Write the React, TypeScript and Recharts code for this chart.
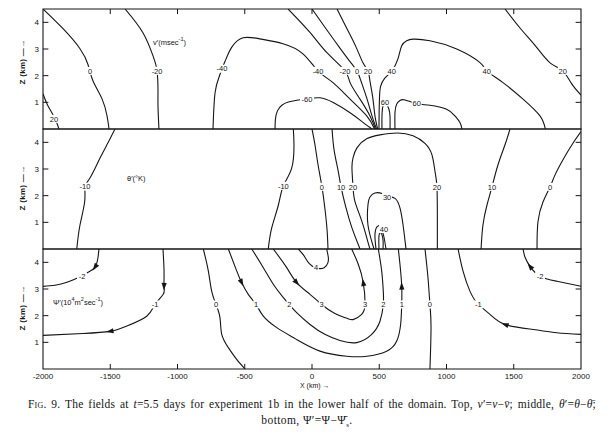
import React from 'react';
import { ComposedChart, Line, XAxis, YAxis, ReferenceArea, ReferenceLine, Scatter } from 'recharts';

// ---------- axes ----------
const xTicks = [-2000, -1500, -1000, -500, 0, 500, 1000, 1500, 2000];
const innerXTicks = [-1500, -1000, -500, 0, 500, 1000, 1500];
const zTicks = [1, 2, 3, 4];

// ---------- top panel: v' (m/s) ----------
const vP20West = [[-2000, 1.32], [-1970, 0.94], [-1933, 0.6], [-1903, 0.3], [-1881, 0]];
const vZeroWest = [[-2000, 4.5], [-1851, 3.76], [-1725, 3.01], [-1665, 2.41], [-1628, 1.8], [-1561, 1.13], [-1524, 0.49], [-1509, 0]];
const vM20West = [[-1390, 4.5], [-1257, 3.61], [-1182, 2.74], [-1152, 2.18], [-1145, 1.43], [-1145, 0.86], [-1138, 0]];
const vM40 = [[-736, 0], [-721, 1.35], [-691, 1.95], [-669, 2.26], [-639, 2.63], [-595, 3.08], [-513, 3.42], [-387, 3.38], [-216, 3.2], [-67, 2.82], [45, 2.18], [156, 1.74], [283, 1.12], [407, 0.49], [465, 0]];
const vM60 = [[-275, 0], [-272, 0.36], [-257, 0.68], [-224, 0.89], [-176, 1.01], [-102, 1.09], [-37, 1.13], [59, 1.17], [158, 0.99], [283, 0.61], [381, 0.24], [446, 0]];
const vM20East = [[-178, 4.5], [-15, 3.62], [109, 2.87], [245, 2.18], [283, 1.74], [357, 1.12], [431, 0.49], [472, 0]];
const vZeroEast = [[0, 4.5], [104, 3.76], [201, 3.08], [290, 2.48], [335, 2.18], [364, 1.8], [409, 1.13], [446, 0.49], [480, 0]];
const vP20Mid = [[186, 4.5], [260, 3.76], [327, 3.08], [379, 2.48], [416, 2.18], [431, 1.8], [453, 1.13], [468, 0.49], [488, 0]];
const vP40 = [[498, 0], [499, 0.6], [502, 1.2], [510, 1.6], [540, 1.9], [593, 2.18], [639, 2.63], [667, 3.12], [704, 3.31], [751, 3.37], [877, 3.31], [1076, 3.0], [1249, 2.49], [1299, 2.18], [1420, 1.74], [1569, 1.12], [1695, 0.49], [1735, 0]];
const vP60West = [[520, 0], [521, 0.6], [530, 0.92], [543, 1.02], [558, 0.92], [578, 0.6], [580, 0]];
const vP60East = [[617, 0], [617, 0.62], [630, 0.94], [654, 1.07], [691, 1.09], [778, 0.95], [877, 0.89], [1001, 0.74], [1063, 0.49], [1100, 0.24], [1115, 0]];
const vP20East = [[1435, 4.5], [1551, 3.76], [1667, 3.08], [1770, 2.48], [1864, 2.18], [1930, 1.7], [2000, 1.27]];
const vLabels = [
  { x: -1918, z: 0.38, t: '20' }, { x: -1650, z: 2.18, t: '0' }, { x: -1152, z: 2.18, t: '-20' },
  { x: -669, z: 2.26, t: '-40' }, { x: -37, z: 1.13, t: '-60' }, { x: 45, z: 2.18, t: '-40' },
  { x: 245, z: 2.18, t: '-20' }, { x: 335, z: 2.18, t: '0' }, { x: 416, z: 2.18, t: '20' },
  { x: 593, z: 2.18, t: '40' }, { x: 543, z: 1.0, t: '60' }, { x: 778, z: 0.95, t: '60' },
  { x: 1299, z: 2.18, t: '40' }, { x: 1864, z: 2.18, t: '20' },
];

// ---------- middle panel: theta' (K) ----------
const tM10West = [[-1465, 4.5], [-1517, 3.98], [-1576, 3.41], [-1651, 2.66], [-1688, 2.34], [-1690, 1.78], [-1725, 0.9], [-1749, 0]];
const tM10East = [[-139, 4.5], [-134, 3.91], [-151, 3.03], [-213, 2.37], [-250, 1.65], [-300, 0.78], [-325, 0]];
const tZeroWest = [[0, 4.5], [22, 3.91], [45, 3.16], [74, 2.33], [97, 1.47], [112, 0.71], [119, 0]];
const tP10West = [[149, 4.5], [164, 3.72], [193, 2.97], [216, 2.33], [253, 1.54], [297, 0.79], [357, 0]];
const tP20 = [[431, 0], [416, 0.26], [372, 1.02], [320, 1.77], [305, 2.33], [297, 3.05], [305, 3.42], [335, 3.8], [409, 4.14], [506, 4.28], [632, 4.35], [751, 4.25], [840, 3.96], [892, 3.53], [915, 2.89], [929, 2.33], [932, 1.2], [932, 0]];
const tP30 = [[461, 0], [416, 0.9], [416, 1.65], [431, 1.95], [468, 2.1], [520, 2.08], [560, 1.98], [617, 1.9], [654, 1.54], [677, 0.9], [699, 0]];
const tP40Outer = [[476, 0], [468, 0.53], [483, 0.83], [506, 0.86], [520, 0.71], [535, 0.45], [550, 0]];
const tP40Inner = [[498, 0], [498, 0.49], [513, 0.6], [528, 0.34], [528, 0]];
const tP10East = [[1472, 4.5], [1435, 3.91], [1383, 3.16], [1338, 2.33], [1301, 1.65], [1271, 0.9], [1257, 0]];
const tZeroEast = [[2000, 4.4], [1933, 3.91], [1866, 3.35], [1807, 2.78], [1770, 2.33], [1718, 1.77], [1680, 1.02], [1673, 0]];
const tLabels = [
  { x: -1688, z: 2.34, t: '-10' }, { x: -213, z: 2.37, t: '-10' }, { x: 74, z: 2.33, t: '0' },
  { x: 216, z: 2.33, t: '10' }, { x: 305, z: 2.33, t: '20' }, { x: 929, z: 2.33, t: '20' },
  { x: 558, z: 1.95, t: '30' }, { x: 535, z: 0.75, t: '40' }, { x: 1338, z: 2.33, t: '10' },
  { x: 1770, z: 2.33, t: '0' },
];

// ---------- bottom panel: psi' (10^4 m2/s) ----------
const pM2West = [[-1584, 4.5], [-1591, 4.19], [-1613, 3.82], [-1665, 3.63], [-1710, 3.48], [-1747, 3.4], [-1822, 3.25], [-1911, 3.14], [-2000, 3.1]];
const pM1West = [[-1108, 4.5], [-1100, 3.67], [-1100, 3.1], [-1106, 2.8], [-1167, 2.42], [-1229, 1.98], [-1378, 1.61], [-1502, 1.41], [-1703, 1.33], [-2000, 1.26]];
const pZeroWest = [[-808, 4.5], [-771, 3.68], [-746, 2.92], [-714, 2.42], [-684, 1.92], [-671, 1.3], [-622, 0.8], [-560, 0.36], [-498, 0]];
const pP1 = [[-622, 4.5], [-560, 3.68], [-523, 3.24], [-474, 2.8], [-416, 2.42], [-362, 1.98], [-262, 1.55], [-120, 1.12], [59, 0.67], [258, 0.48], [407, 0.48], [555, 0.67], [630, 1.05], [659, 1.67], [667, 2.42], [667, 3.11], [654, 3.93], [642, 4.5]];
const pP2 = [[-448, 4.5], [-362, 3.8], [-288, 3.18], [-213, 2.68], [-169, 2.42], [-114, 2.11], [-15, 1.67], [95, 1.3], [208, 1.07], [332, 0.99], [444, 1.3], [506, 1.8], [530, 2.42], [530, 2.92], [518, 3.68], [493, 4.5]];
const pP3 = [[-288, 4.5], [-188, 3.8], [-114, 3.24], [-15, 2.8], [72, 2.42], [170, 2.08], [260, 1.9], [310, 1.86], [369, 2.05], [394, 2.42], [381, 3.24], [344, 3.93], [295, 4.5]];
const pP4 = [[-102, 4.5], [-60, 4.25], [-20, 3.95], [35, 3.78], [90, 3.8], [118, 3.98], [121, 4.2], [109, 4.5]];
const pZeroEast = [[840, 4.5], [862, 3.44], [877, 2.42], [885, 1.56], [877, 0]];
const pM1East = [[2000, 1.3], [1820, 1.36], [1645, 1.48], [1435, 1.67], [1323, 2.05], [1237, 2.42], [1175, 2.91], [1123, 3.67], [1086, 4.5]];
const pM2East = [[2000, 3.1], [1821, 3.29], [1695, 3.48], [1621, 3.85], [1584, 4.19], [1569, 4.5]];
const pLabels = [
  { x: -1710, z: 3.48, t: '-2' }, { x: -1167, z: 2.42, t: '-1' }, { x: -714, z: 2.42, t: '0' },
  { x: -416, z: 2.42, t: '1' }, { x: -169, z: 2.42, t: '2' }, { x: 72, z: 2.42, t: '3' },
  { x: 30, z: 3.8, t: '4' }, { x: 394, z: 2.42, t: '3' }, { x: 530, z: 2.42, t: '2' },
  { x: 667, z: 2.42, t: '1' }, { x: 877, z: 2.42, t: '0' }, { x: 1237, z: 2.42, t: '-1' },
  { x: 1695, z: 3.48, t: '-2' },
];
// indices of points carrying flow arrows (points listed in flow direction)
const pArrows: Record<string, number[]> = {
  pM2West: [2], pM1West: [2, 7], pP1: [2, 15], pP3: [2, 10], pM1East: [3], pM2East: [3],
};

// ---------- helpers ----------
type P = { x: number; z: number };
const toPts = (a: number[][]): P[] => a.map(([x, z]) => ({ x, z }));

const PLOT_W = 538;
const PLOT_H = 120;
const INK = '#151515';
const SANS = '"Liberation Sans", Arial, sans-serif';
const SERIF = '"Liberation Serif", "Times New Roman", serif';

type LineDef = { name: string; pts: P[]; arrows: number[] };
const mk = (name: string, a: number[][], arrows: number[] = []): LineDef => ({ name, pts: toPts(a), arrows });

const vLines: LineDef[] = [
  mk('vP20West', vP20West), mk('vZeroWest', vZeroWest), mk('vM20West', vM20West), mk('vM40', vM40),
  mk('vM60', vM60), mk('vM20East', vM20East), mk('vZeroEast', vZeroEast), mk('vP20Mid', vP20Mid),
  mk('vP40', vP40), mk('vP60West', vP60West), mk('vP60East', vP60East), mk('vP20East', vP20East),
];
const tLines: LineDef[] = [
  mk('tM10West', tM10West), mk('tM10East', tM10East), mk('tZeroWest', tZeroWest), mk('tP10West', tP10West),
  mk('tP20', tP20), mk('tP30', tP30), mk('tP40Outer', tP40Outer), mk('tP40Inner', tP40Inner),
  mk('tP10East', tP10East), mk('tZeroEast', tZeroEast),
];
const pLines: LineDef[] = [
  mk('pM2West', pM2West, pArrows.pM2West), mk('pM1West', pM1West, pArrows.pM1West),
  mk('pZeroWest', pZeroWest), mk('pP1', pP1, pArrows.pP1), mk('pP2', pP2),
  mk('pP3', pP3, pArrows.pP3), mk('pP4', pP4), mk('pZeroEast', pZeroEast),
  mk('pM1East', pM1East, pArrows.pM1East), mk('pM2East', pM2East, pArrows.pM2East),
];

const kx = PLOT_W / 4000;
const kz = PLOT_H / 4.5;

function arrowDot(def: LineDef) {
  return (props: any) => {
    const { cx, cy, index } = props;
    if (!def.arrows.includes(index) || cx == null || cy == null) return <g key={`d${index}`} />;
    const a = def.pts[index - 1] ?? def.pts[index];
    const b = def.pts[index + 1] ?? def.pts[index];
    const dx = (b.x - a.x) * kx;
    const dy = -(b.z - a.z) * kz;
    const ang = (Math.atan2(dy, dx) * 180) / Math.PI;
    return (
      <g key={`d${index}`} transform={`translate(${cx},${cy}) rotate(${ang})`}>
        <path d="M4,0 L-3.5,-2.6 L-3.5,2.6 Z" fill={INK} />
      </g>
    );
  };
}

const LabelMark = (props: any) => {
  const { cx, cy, payload } = props;
  if (cx == null || cy == null) return <g />;
  const t: string = payload.t;
  const w = t.length * 4.2 + 1.5;
  return (
    <g>
      <rect x={cx - w / 2} y={cy - 4} width={w} height={8} fill="#fff" />
      <text x={cx} y={cy} dy="0.36em" textAnchor="middle" fontSize={7.5} fontFamily={SANS} fill={INK}>
        {t}
      </text>
    </g>
  );
};

type PanelProps = { top: number; lines: LineDef[]; labels: { x: number; z: number; t: string }[]; showX?: boolean; topTicks?: boolean };

function Panel({ top, lines, labels, showX, topTicks }: PanelProps) {
  const h = showX ? 150 : 130;
  const tickStyle = { fontSize: 8, fill: INK, fontFamily: SANS };
  return (
    <div style={{ position: 'absolute', left: 0, top: top - 9 }}>
      <ComposedChart width={614} height={h} margin={{ top: 9, right: 33, bottom: showX ? 7 : 1, left: 3 }}>
        <XAxis
          dataKey="x" type="number" domain={[-2000, 2000]} ticks={xTicks} interval={0}
          allowDataOverflow hide={!showX} height={14} axisLine={false} tickLine={false}
          tickSize={2} tickMargin={2} tick={tickStyle}
        />
        <YAxis
          type="number" domain={[0, 4.5]} ticks={zTicks} interval={0} allowDataOverflow width={40}
          axisLine={false} tickLine={false} tickSize={2} tickMargin={2} tick={tickStyle}
        />
        {lines.map((l) => (
          <Line
            key={l.name} data={l.pts} dataKey="z" type="natural" stroke={INK} strokeWidth={1.1}
            dot={l.arrows.length ? arrowDot(l) : false} activeDot={false} isAnimationActive={false}
            legendType="none"
          />
        ))}
        {zTicks.map((z) => (
          <ReferenceLine key={`l${z}`} segment={[{ x: -2000, y: z }, { x: -1960, y: z }]} stroke={INK} strokeWidth={1} />
        ))}
        {zTicks.map((z) => (
          <ReferenceLine key={`r${z}`} segment={[{ x: 1960, y: z }, { x: 2000, y: z }]} stroke={INK} strokeWidth={1} />
        ))}
        {topTicks && innerXTicks.map((x) => (
          <ReferenceLine key={`t${x}`} segment={[{ x, y: 4.5 }, { x, y: 4.31 }]} stroke={INK} strokeWidth={1} />
        ))}
        {showX && innerXTicks.map((x) => (
          <ReferenceLine key={`b${x}`} segment={[{ x, y: 0 }, { x, y: 0.19 }]} stroke={INK} strokeWidth={1} />
        ))}
        <ReferenceArea x1={-2000} x2={2000} y1={0} y2={4.5} fill="none" stroke={INK} strokeWidth={1.1} ifOverflow="visible" />
        <Scatter data={labels} dataKey="z" shape={(p: any) => <LabelMark {...p} />} isAnimationActive={false} legendType="none" />
      </ComposedChart>
    </div>
  );
}

const zLabelStyle = (cy: number): React.CSSProperties => ({
  position: 'absolute', left: 22, top: cy, transform: 'translate(-50%, -50%) rotate(-90deg)',
  fontSize: 8, fontFamily: SANS, color: INK, whiteSpace: 'nowrap', fontWeight: 'bold', letterSpacing: 0.3,
});
const titleStyle = (left: number, cy: number): React.CSSProperties => ({
  position: 'absolute', left, top: cy, transform: 'translateY(-50%)', fontSize: 7.5, fontFamily: SANS,
  color: INK, whiteSpace: 'nowrap',
});
const supStyle: React.CSSProperties = { fontSize: 5.5, verticalAlign: 'super', lineHeight: 0 };

export default function App() {
  return (
    <div style={{ position: 'absolute', left: 0, top: 0, width: 614, height: 434, background: '#fff', overflow: 'hidden' }}>
      <Panel top={9} lines={vLines} labels={vLabels} topTicks />
      <Panel top={129} lines={tLines} labels={tLabels} />
      <Panel top={249} lines={pLines} labels={pLabels} showX />

      <div style={titleStyle(153, 42)}>v′(msec<span style={supStyle}>-1</span>)</div>
      <div style={titleStyle(127, 178)}>θ′(°K)</div>
      <div style={titleStyle(53, 302)}>Ψ′(10<span style={supStyle}>4</span>m<span style={supStyle}>2</span>sec<span style={supStyle}>-1</span>)</div>

      <div style={zLabelStyle(62)}>Z (km) —→</div>
      <div style={zLabelStyle(188)}>Z (km) —→</div>
      <div style={zLabelStyle(308)}>Z (km) —→</div>

      <div style={{ position: 'absolute', left: 300, top: 382, fontSize: 7, fontFamily: SANS, color: INK, whiteSpace: 'nowrap' }}>X (km) →</div>

      <div style={{
        position: 'absolute', left: 28, top: 397, width: 568, fontFamily: SERIF, fontSize: 11.5, color: INK,
        lineHeight: '14px', textAlign: 'justify', textAlignLast: 'justify', letterSpacing: 0.2,
      }}>
        <span style={{ fontVariant: 'small-caps' }}>Fig.</span> 9. The fields at <i>t</i>=5.5 days for experiment 1b in the lower half of the domain. Top, <i>v</i>′=<i>v</i>−<i>v̄</i>; middle, <i>θ</i>′=<i>θ</i>−<i>θ̄</i>;
      </div>
      <div style={{
        position: 'absolute', left: 0, top: 413, width: 614, fontFamily: SERIF, fontSize: 11.5, color: INK,
        lineHeight: '14px', textAlign: 'center', letterSpacing: 0.4, whiteSpace: 'nowrap',
      }}>
        bottom, Ψ′=Ψ−Ψ̄<sub style={{ fontSize: 7, lineHeight: 0 }}>s</sub>.
      </div>
    </div>
  );
}
